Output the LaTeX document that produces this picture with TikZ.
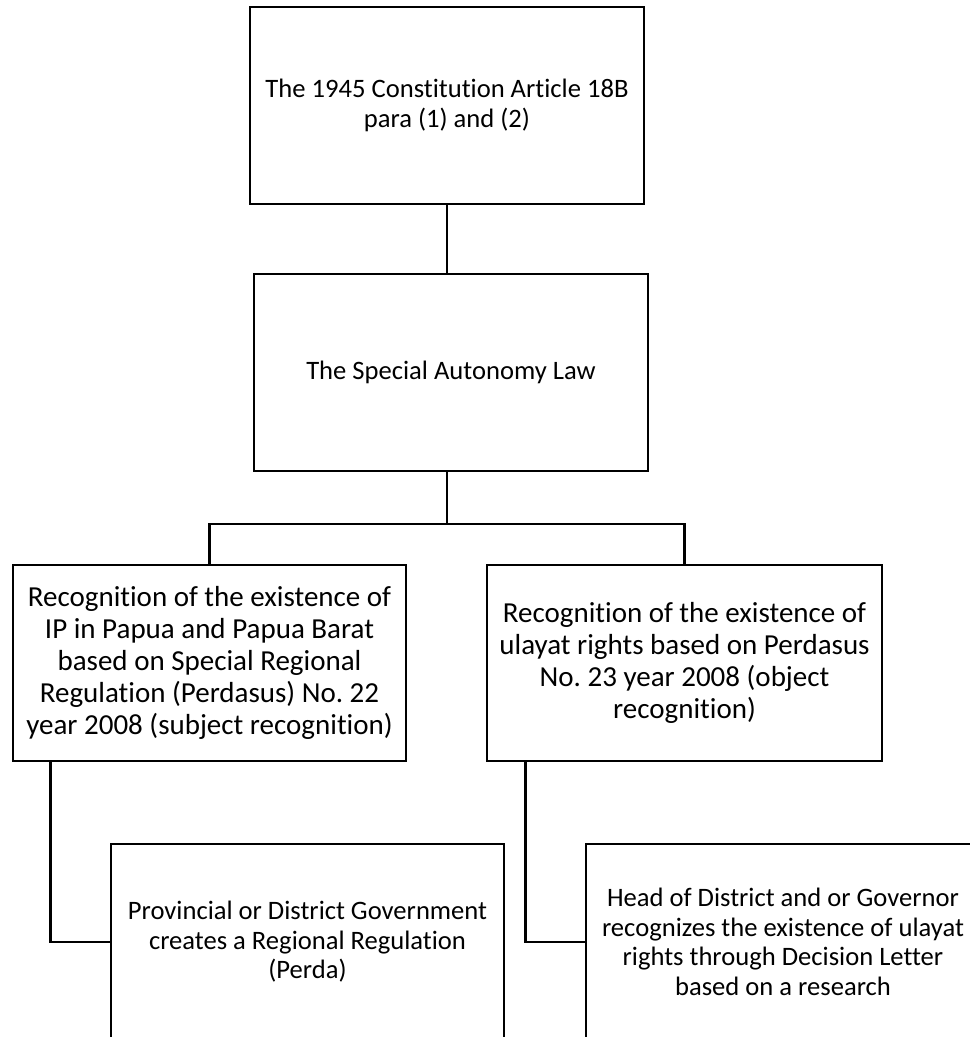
\documentclass[tikz,border=0pt]{standalone}
\usepackage{fontspec}
\setmainfont{Carlito}[Ligatures=NoCommon]
\frenchspacing
\begin{document}
\begin{tikzpicture}[x=1pt,y=-1pt,
  box/.style={draw, line width=2.7pt, minimum width=394pt, minimum height=197pt, align=center, inner sep=0pt,
    font=\fontsize{26.6pt}{30pt}\selectfont},
  bigbox/.style={box, font=\fontsize{29pt}{32pt}\selectfont},
  conn/.style={line width=2.7pt}]
\useasboundingbox (0,0) rectangle (970,1037);
\clip (0,0) rectangle (970,1037);
\node[box] (b1) at (447,105.5) {The 1945 Constitution Article 18B\\para (1) and (2)};
\node[box] (b2) at (451,372.5) {The Special Autonomy Law};
\node[bigbox, minimum width=393pt, minimum height=196pt] (b3) at (209.5,663) {Recognition of the existence of\\IP in Papua and Papua Barat\\based on Special Regional\\Regulation (Perdasus) No. 22\\year 2008 (subject recognition)};
\node[bigbox, minimum width=395pt, minimum height=196pt] (b4) at (684.5,663) {Recognition of the existence of\\ulayat rights based on Perdasus\\No. 23 year 2008 (object\\recognition)};
\node[box, minimum width=393pt, minimum height=196pt, font=\fontsize{26.6pt}{29.5pt}\selectfont] (b5) at (307.5,942) {Provincial or District Government\\creates a Regional Regulation\\(Perda)};
\node[box, minimum height=196pt, font=\fontsize{26.6pt}{29.5pt}\selectfont] (b6) at (783,942) {Head of District and or Governor\\recognizes the existence of ulayat\\rights through Decision Letter\\based on a research};
\coordinate (j) at (447,524);
\draw[conn] (b1.south) -- (b1.south |- b2.north);
\draw[conn] (b1.south |- b2.south) -- (j);
\draw[conn] (b3.north) |- (j) -| (b4.north);
\draw[conn] ([xshift=39pt]b3.south west) |- (b5.west);
\draw[conn] ([xshift=40pt]b4.south west) |- (b6.west);
\end{tikzpicture}
\end{document}
